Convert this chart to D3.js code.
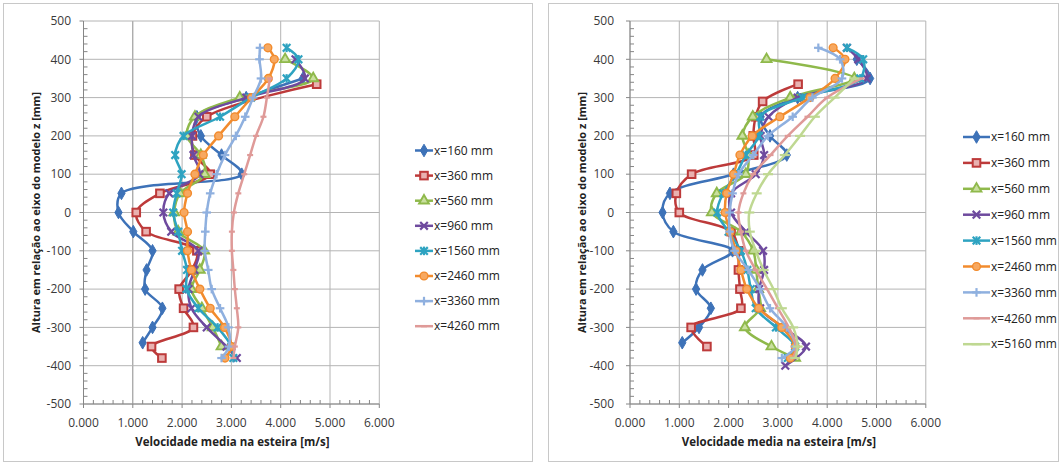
<!DOCTYPE html>
<html><head><meta charset="utf-8">
<script src="https://cdn.jsdelivr.net/npm/d3@7"></script>
<style>
html,body{margin:0;padding:0;background:#fff;}
svg{display:block;font-family:"Open Sans","Liberation Sans",sans-serif;}
</style></head>
<body><svg id="c" width="1062" height="465"></svg>
<script>
// ---------- data ----------
const seriesNames = ["x=160 mm","x=360 mm","x=560 mm","x=960 mm","x=1560 mm","x=2460 mm","x=3360 mm","x=4260 mm","x=5160 mm"];
const xTickValues = [0,1,2,3,4,5,6];
const yTickValues = [-500,-400,-300,-200,-100,0,100,200,300,400,500];
const axisTitleX = "Velocidade media na esteira [m/s]";
const axisTitleY = "Altura em relação ao eixo do modelo z [mm]";

const zFull = [430,400,350,300,250,200,150,100,50,0,-50,-100,-150,-200,-250,-300,-350,-380];
const zTail = [350,300,250,200,150,100,50,0,-50,-100,-150,-200,-250,-300,-350,-380];

// left panel
const leftZ160 = [350,300,250,200,150,100,50,0,-50,-100,-150,-200,-250,-300,-340];
const leftV160 = [4.45,3.3,2.3,2.38,2.8,3.21,0.77,0.71,1.01,1.40,1.28,1.25,1.60,1.40,1.20];
const leftZ360 = [335,250,200,150,100,50,0,-50,-100,-150,-200,-250,-300,-350,-380];
const leftV360 = [4.73,2.50,2.21,2.26,2.57,1.55,1.07,1.27,2.30,2.20,1.94,2.03,2.23,1.38,1.59];
const leftZ560 = [400,350,300,250,200,150,100,50,0,-50,-100,-150,-200,-250,-300,-350];
const leftV560 = [4.09,4.66,3.17,2.26,2.1,2.38,2.46,1.96,1.84,1.92,2.45,2.36,2.19,2.40,2.62,2.80];
const leftZ960 = [400,350,300,250,200,150,100,50,0,-50,-100,-150,-200,-250,-300,-350,-380];
const leftV960 = [4.3,4.49,3.3,2.33,2.2,2.23,2.35,1.74,1.62,1.78,2.33,2.25,2.13,2.19,2.50,2.9,3.11];
const leftV1560 = [4.12,4.36,4.12,3.4,2.77,2.03,1.86,1.99,1.89,1.82,1.92,2.0,2.1,2.09,2.33,2.72,3.0,3.04];
const leftV2460 = [3.74,3.87,3.75,3.41,3.07,2.74,2.43,2.26,2.11,2.04,2.11,2.11,2.19,2.36,2.57,2.86,3.0,2.87];
const leftV3360 = [3.58,3.57,3.6,3.44,3.28,3.09,2.87,2.70,2.57,2.50,2.47,2.46,2.53,2.60,2.77,2.94,2.95,2.8];
const leftV4260 = [3.78,3.72,3.65,3.50,3.38,3.26,3.14,3.05,3.01,3.01,3.04,3.07,3.11,3.14,3.07,3.04];

// right panel
const rightZ160 = [400,350,300,250,200,150,100,50,0,-50,-100,-150,-200,-250,-300,-340];
const rightV160 = [4.6,4.87,3.4,2.65,2.84,3.18,2.10,0.81,0.66,0.88,2.08,1.47,1.34,1.64,1.40,1.06];
const rightZ360 = [335,290,250,200,150,100,50,0,-50,-100,-150,-200,-250,-300,-350];
const rightV360 = [3.41,2.69,2.55,2.5,2.51,1.25,0.94,1.0,2.05,2.2,2.2,2.23,2.25,1.24,1.56];
const rightZ560 = [400,350,300,250,200,150,100,50,0,-50,-100,-150,-200,-250,-300,-350,-380];
const rightV560 = [2.77,4.55,3.25,2.49,2.28,2.4,2.35,1.76,1.66,2.25,2.5,2.56,2.6,2.64,2.33,2.87,3.35];
const rightZ960 = [430,400,350,300,250,200,150,100,50,0,-50,-100,-150,-200,-250,-300,-350,-400];
const rightV960 = [4.4,4.63,4.8,3.4,2.81,2.65,2.72,2.55,2.05,2.05,2.35,2.70,2.72,2.62,2.64,3.1,3.57,3.15];
const rightV1560 = [4.40,4.73,4.67,3.5,2.64,2.62,2.35,2.15,1.89,1.77,2.0,2.25,2.38,2.45,2.55,2.96,3.35,3.2];
const rightV2460 = [4.12,4.36,4.16,3.65,3.04,2.48,2.23,2.1,1.96,1.93,2.03,2.15,2.25,2.37,2.61,3.08,3.35,3.25];
const rightV3360 = [3.82,4.26,4.3,3.7,3.3,2.8,2.5,2.2,2.08,2.02,2.02,2.12,2.4,2.64,2.84,3.18,3.35,3.08];
const rightV4260 = [4.7,4.0,3.6,3.2,2.85,2.5,2.3,2.2,2.25,2.35,2.55,2.78,3.0,3.22,3.38,3.3];
const rightV5160 = [4.55,4.15,3.75,3.45,3.14,2.8,2.57,2.42,2.43,2.55,2.71,2.91,3.08,3.31,3.4,3.35];

// ---------- styles ----------
const colors = ["#3d72b8","#bd3a3a","#8fb94b","#6e4a9e","#2ea3c1","#f28b2d","#8fb0df","#df9a98","#bfd892"];
const tints  = ["#3d72b8","#e9b1b0","#c9df9f","#6e4a9e","#2ea3c1","#f7a860","#8fb0df","#df9a98","#bfd892"];
const markers = ["diamond","square","triangle","x","star","circle","plus","dash","longdash"];

const zip = (z,v) => z.map((d,i)=>({z:d,v:v[i]}));
const leftSeries = [zip(leftZ160,leftV160),zip(leftZ360,leftV360),zip(leftZ560,leftV560),zip(leftZ960,leftV960),
  zip(zFull,leftV1560),zip(zFull,leftV2460),zip(zFull,leftV3360),zip(zTail,leftV4260)];
const rightSeries = [zip(rightZ160,rightV160),zip(rightZ360,rightV360),zip(rightZ560,rightV560),zip(rightZ960,rightV960),
  zip(zFull,rightV1560),zip(zFull,rightV2460),zip(zFull,rightV3360),zip(zTail,rightV4260),zip(zTail,rightV5160)];

const svg = d3.select("#c");

function drawMarker(g, type, cx, cy, i){
  const c = colors[i], f = tints[i];
  if(type==="diamond"){
    g.append("path").attr("d", d3.symbol(d3.symbolDiamond, 46)()).attr("transform",`translate(${cx},${cy})`).attr("fill",c).attr("stroke",c).attr("stroke-width",1);
  } else if(type==="square"){
    g.append("rect").attr("x",cx-3.8).attr("y",cy-3.8).attr("width",7.6).attr("height",7.6).attr("fill",f).attr("stroke",c).attr("stroke-width",2);
  } else if(type==="triangle"){
    g.append("path").attr("d", d3.symbol(d3.symbolTriangle, 42)()).attr("transform",`translate(${cx},${cy})`).attr("fill",f).attr("stroke",c).attr("stroke-width",1.9);
  } else if(type==="circle"){
    g.append("circle").attr("cx",cx).attr("cy",cy).attr("r",3.9).attr("fill",f).attr("stroke",c).attr("stroke-width",1.4);
  } else {
    let segs = [];
    const s = 3.8;
    if(type==="x") segs = [[-s,-s,s,s],[-s,s,s,-s]];
    if(type==="star") segs = [[-s,-s,s,s],[-s,s,s,-s],[0,-s-0.5,0,s+0.5]];
    if(type==="plus") segs = [[-s-0.5,0,s+0.5,0],[0,-s-0.5,0,s+0.5]];
    if(type==="dash") segs = [[-3,0,3,0]];
    if(type==="longdash") segs = [[-5,0,5,0]];
    segs.forEach(p=>g.append("line").attr("x1",cx+p[0]).attr("y1",cy+p[1]).attr("x2",cx+p[2]).attr("y2",cy+p[3])
      .attr("stroke",c).attr("stroke-width",2.2));
  }
}

function panel(opt){
  const {frame, x0, x1, y0, y1, series, legendX, legendY0, legendStep, legendLine, labelRight, titleX, darkV} = opt;
  svg.append("rect").attr("x",frame[0]+0.5).attr("y",frame[1]+0.5).attr("width",frame[2]-frame[0]).attr("height",frame[3]-frame[1])
    .attr("fill","#fff").attr("stroke","#c8c8c8").attr("stroke-width",1);
  const x = d3.scaleLinear().domain([0,6]).range([x0,x1]);
  const y = d3.scaleLinear().domain([-500,500]).range([y1,y0]);
  const g = svg.append("g");
  // gridlines
  g.selectAll(".gx").data(xTickValues).enter().append("line")
    .attr("x1",d=>x(d)).attr("x2",d=>x(d)).attr("y1",y0).attr("y2",y1)
    .attr("stroke",d=>(darkV!==undefined && d===darkV)?"#8a8a8a":"#b4b4b4").attr("stroke-width",1);
  g.selectAll(".gy").data(yTickValues).enter().append("line")
    .attr("x1",x0).attr("x2",x1).attr("y1",d=>y(d)).attr("y2",d=>y(d))
    .attr("stroke","#b4b4b4").attr("stroke-width",1);
  // axes lines
  g.append("line").attr("x1",x0).attr("x2",x0).attr("y1",y0).attr("y2",y1).attr("stroke","#868686");
  g.append("line").attr("x1",x0).attr("x2",x1).attr("y1",y1).attr("y2",y1).attr("stroke","#868686");
  // minor ticks
  const minorY = d3.range(-500,501,20).filter(d=>d%100!==0);
  g.selectAll(".my").data(minorY).enter().append("line")
    .attr("x1",x0).attr("x2",x0+4).attr("y1",d=>y(d)).attr("y2",d=>y(d)).attr("stroke","#868686");
  const minorX = d3.range(0,6.001,0.2).filter(d=>Math.abs(d-Math.round(d))>0.01);
  g.selectAll(".mx").data(minorX).enter().append("line")
    .attr("x1",d=>x(d)).attr("x2",d=>x(d)).attr("y1",y1).attr("y2",y1-4).attr("stroke","#868686");
  g.selectAll(".My").data(yTickValues).enter().append("line")
    .attr("x1",x0-4).attr("x2",x0).attr("y1",d=>y(d)).attr("y2",d=>y(d)).attr("stroke","#868686");
  g.selectAll(".Mx").data(xTickValues).enter().append("line")
    .attr("x1",d=>x(d)).attr("x2",d=>x(d)).attr("y1",y1).attr("y2",y1+4).attr("stroke","#868686");
  // tick labels
  g.selectAll(".ty").data(yTickValues).enter().append("text")
    .attr("x",labelRight).attr("y",d=>y(d)).attr("dy","0.35em").attr("text-anchor","end")
    .attr("font-size",12).attr("fill","#3a3a3a").text(d=>d);
  g.selectAll(".tx").data(xTickValues).enter().append("text")
    .attr("x",d=>x(d)).attr("y",y1+19).attr("dy","0.35em").attr("text-anchor","middle")
    .attr("font-size",12).attr("fill","#3a3a3a").text(d=>d3.format(".3f")(d));
  // titles
  g.append("text").attr("x",(x0+x1)/2+1).attr("y",446).attr("text-anchor","middle").attr("font-size",11.5)
    .attr("font-weight","bold").attr("fill","#222").text(axisTitleX);
  g.append("text").attr("transform",`translate(${titleX},${(y0+y1)/2}) rotate(-90)`).attr("text-anchor","middle")
    .attr("font-size",11).attr("font-weight","bold").attr("fill","#222").text(axisTitleY);
  // series
  const line = d3.line().x(d=>x(d.v)).y(d=>y(d.z)).curve(d3.curveCatmullRom.alpha(0.5));
  series.forEach((s,i)=>{
    const sg = g.append("g");
    sg.append("path").attr("d",line(s)).attr("fill","none").attr("stroke",colors[i]).attr("stroke-width",2.5);
    s.forEach(d=>drawMarker(sg, markers[i], x(d.v), y(d.z), i));
  });
  // legend
  series.forEach((s,i)=>{
    const ly = legendY0 + i*legendStep;
    g.append("line").attr("x1",legendX).attr("x2",legendX+legendLine).attr("y1",ly).attr("y2",ly)
      .attr("stroke",colors[i]).attr("stroke-width",2.5);
    drawMarker(g, markers[i], legendX+legendLine/2, ly, i);
    g.append("text").attr("x",legendX+legendLine+1).attr("y",ly).attr("dy","0.35em")
      .attr("font-size",12).attr("fill","#222").text(seriesNames[i]);
  });
}

panel({frame:[3,3,532,461], x0:83.5, x1:379.3, y0:21, y1:404, series:leftSeries,
  legendX:415, legendY0:150.5, legendStep:25.1, legendLine:18, labelRight:71, titleX:40, darkV:1});
panel({frame:[548,3,1058,461], x0:630, x1:925.8, y0:21, y1:404, series:rightSeries,
  legendX:963, legendY0:137, legendStep:25.9, legendLine:27, labelRight:614, titleX:586});
</script></body></html>
